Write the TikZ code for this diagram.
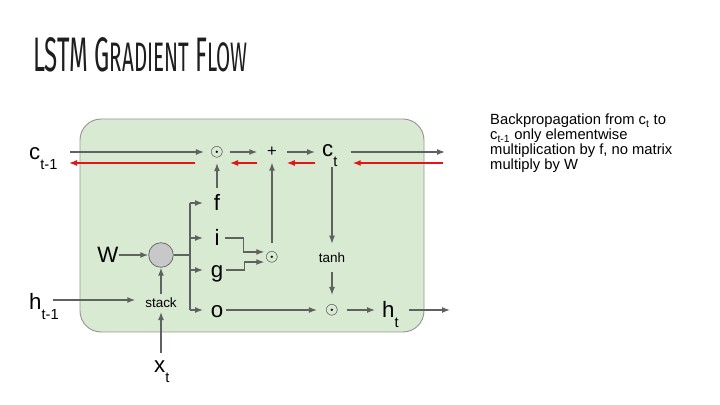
\documentclass[tikz,border=0pt]{standalone}
\usepackage{fontspec}
\setmainfont{Liberation Sans}
\newfontfamily\titlefont{Fira Sans}
\usepackage{graphicx}
\usetikzlibrary{arrows.meta,calc,positioning}

\definecolor{cellgreen}{RGB}{217,234,211}
\definecolor{cellborder}{RGB}{150,150,150}
\definecolor{flowgray}{RGB}{95,99,95}
\definecolor{gradred}{RGB}{230,20,20}
\definecolor{stackgray}{RGB}{200,200,200}
\definecolor{titleink}{RGB}{30,30,30}

\newcommand{\sub}[1]{\raisebox{-8pt}{\fontsize{12.5}{12.5}\selectfont #1}}

\begin{document}
\begin{tikzpicture}[x=0.03cm, y=-0.03cm,
    lbl/.style={font=\fontsize{19}{19}\selectfont, inner sep=0pt},
    gate/.style={lbl, text height=12pt, text depth=0pt},
    op/.style={font=\fontsize{14}{14}\selectfont, inner sep=0pt},
    fn/.style={font=\fontsize{11.5}{11.5}\selectfont, inner sep=0pt, outer xsep=0pt, outer ysep=3.5pt},
    desc/.style={font=\fontsize{12.6}{12.8}\selectfont, align=left, inner sep=0pt},
    flow/.style={draw=flowgray, line width=1.1pt, -{Latex[length=2.4mm,width=1.8mm]}},
    grad/.style={draw=gradred, line width=1.1pt, -{Latex[length=2.4mm,width=1.8mm]}},
    wire/.style={draw=flowgray, line width=1.1pt}]
    \useasboundingbox (0,0) rectangle (720,405);

    \node[anchor=base west, inner sep=0pt, text=titleink] (title) at (33,72)
        {\resizebox{183pt}{29pt}{\titlefont\fontsize{40}{40}\selectfont LSTM G{\fontsize{34}{34}\selectfont RADIENT} F{\fontsize{34}{34}\selectfont LOW}}};

    % cell
    \draw[draw=cellborder, fill=cellgreen, line width=0.8pt, rounded corners=18pt] (80,119) rectangle (424,332);

    % cell state row
    \node[lbl, anchor=base west] (cprev) at (29,160) {c\sub{t-1}};
    \node[op, outer xsep=5.5pt, outer ysep=4.7pt] (mulf) at (217,152) {$\odot$};
    \node[op, outer xsep=8.5pt, outer ysep=5pt] (plus) at (272,152) {+};
    \node[lbl, anchor=base west] (ct) at (322,157) {c\sub{t}};
    \coordinate (cin) at (70,152);
    \coordinate (cout) at (445,152);
    \coordinate (redrow) at (0,163);
    \coordinate (gradin) at (443,163);
    \coordinate (gradout) at (69,163);

    % input side
    \node[gate] (w) at (108,255) {W};
    \node[circle, draw=flowgray, fill=stackgray, line width=0.6pt, minimum size=21pt, inner sep=0pt] (mix) at (161,255) {};
    \node[fn] (stack) at (161,303) {stack};
    \node[lbl, anchor=base west] (hprev) at (29,310) {h\sub{t-1}};
    \node[lbl, anchor=base west] (xt) at (154,373) {x\sub{t}};
    \coordinate (hin) at (53,300);
    \coordinate (trunk) at (190,255);
    \coordinate (tips) at (203,255);

    % gates
    \node[gate] (f) at (217,203) {f};
    \node[gate] (i) at (217,238) {i};
    \node[gate] (g) at (217,270) {g};
    \node[gate] (o) at (217,310) {o};

    % products and output
    \node[op, outer xsep=1pt, outer ysep=7.3pt] (mulig) at (272,257) {$\odot$};
    \node[fn, outer ysep=8pt] (tanh) at (332,258) {tanh};
    \node[op, outer xsep=7.3pt, outer ysep=8pt] (mulo) at (332,310) {$\odot$};
    \node[lbl, anchor=base west] (ht) at (382,318) {h\sub{t}};
    \coordinate (hout) at (450,310);

    \node[desc, anchor=north west] (note) at (490,114)
        {Backpropagation from c\textsubscript{t} to\\c\textsubscript{t-1} only elementwise\\multiplication by f, no matrix\\multiply by W};

    % forward flow
    \draw[flow] (cin) -- (mulf);
    \draw[flow] (mulf) -- (plus);
    \draw[flow] (plus) -- ($(ct.west |- plus)+(-7,0)$);
    \draw[flow] ($(ct.east |- plus)+(13,0)$) -- (cout);
    \draw[flow] ($(f.north)+(0,-8)$) -- (mulf.south);
    \draw[flow] (mulig) -- (plus);
    \draw[flow] (ct.south -| tanh) -- (tanh);
    \draw[flow] (tanh) -- (mulo);
    \draw[flow] ($(o.east)+(3,0)$) -- (mulo);
    \draw[flow] (mulo) -- ($(ht.west |- mulo)+(-7,0)$);
    \draw[flow] ($(ht.east |- mulo)+(10,0)$) -- (hout);

    \draw[flow] (w) -- (mix);
    \draw[wire] (mix) -- (trunk);
    \draw[wire] (trunk |- f) -- (trunk |- o);
    \foreach \q in {f,i,g,o}
        \draw[flow] (trunk |- \q) -- (tips |- \q);
    \draw[flow] (stack) -- (mix);
    \draw[flow] (hin) -- ($(stack.west |- hin)+(-10,0)$);
    \draw[flow] ($(xt.north -| stack)+(0,-8)$) -- (stack);
    \draw[flow] ($(i.east)+(5,0)$) -- ++(19,0) |- ([yshift=4.3pt]mulig.west);
    \draw[flow] ($(g.east)+(3,0)$) -- ++(18,0) |- ([yshift=-4.3pt]mulig.west);

    % gradient flow
    \draw[grad] (gradin) -- ($(ct.east |- redrow)+(15,0)$);
    \draw[grad] ($(ct.west |- redrow)+(-7,0)$) -- (plus.east |- redrow);
    \draw[grad] (plus.west |- redrow) -- (mulf.east |- redrow);
    \draw[grad] ($(mulf.west |- redrow)+(-9,0)$) -- (gradout);
\end{tikzpicture}
\end{document}
